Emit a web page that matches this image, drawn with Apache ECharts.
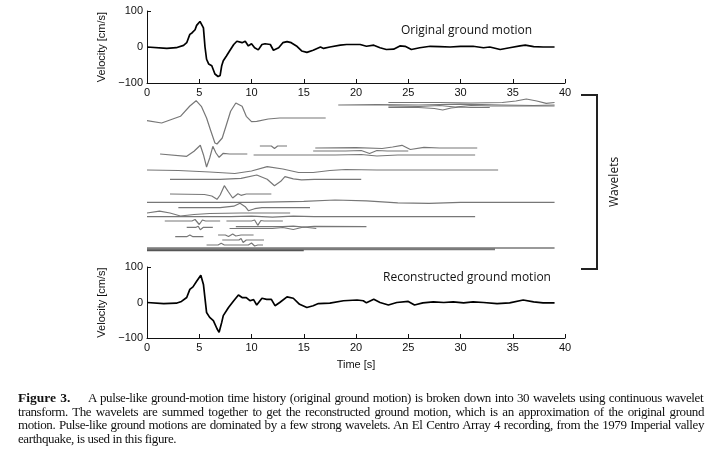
<!DOCTYPE html>
<html><head><meta charset="utf-8">
<script src="https://cdn.jsdelivr.net/npm/echarts@6/dist/echarts.min.js"></script>
<style>
html,body{margin:0;padding:0;background:#fff;}
#chart{position:absolute;left:0;top:0;width:720px;height:459px;}
#cap{position:absolute;left:18px;top:391px;width:686px;font-family:"Liberation Serif","Times New Roman",serif;font-size:13px;line-height:13.6px;color:#111;}
#cap div{white-space:nowrap;}
#cap b{display:inline-block;width:70px;font-size:13.5px;letter-spacing:0;}
</style></head>
<body>
<div id="chart"></div>
<div id="cap">
<div class="j"><b>Figure 3.</b>A pulse-like ground-motion time history (original ground motion) is broken down into 30 wavelets using continuous wavelet</div>
<div class="j">transform. The wavelets are summed together to get the reconstructed ground motion, which is an approximation of the original ground</div>
<div class="j">motion. Pulse-like ground motions are dominated by a few strong wavelets. An El Centro Array 4 recording, from the 1979 Imperial valley</div>
<div>earthquake, is used in this figure.</div>
</div>
<script>
const xTicks=[0,5,10,15,20,25,30,35,40];
const yTicks=[-100,0,100];
const originalMotion=[[0,0],[1.9,-3.6],[2.8,-2],[3.5,4.5],[3.8,12],[4.1,35],[4.3,39],[4.6,48],[4.75,60],[5.07,71],[5.2,75],[5.4,53],[5.55,0],[5.7,-34],[5.9,-47],[6.2,-52],[6.5,-75],[6.8,-82],[7.0,-79],[7.15,-52],[7.3,-38],[7.6,-25],[7.9,-11],[8.3,7],[8.6,16],[8.75,21],[9.1,12],[9.4,16],[9.7,3],[10.0,9],[10.3,-2],[10.65,-8],[11.0,7],[11.3,9],[11.8,7],[12.1,-9],[12.6,-2],[13.0,12],[13.4,15],[13.8,12],[14.3,3],[14.8,-11],[15.3,-15],[15.9,-9],[16.6,0],[16.9,-4],[17.5,0],[18.5,5],[19.1,7],[19.7,7],[20.4,7],[21.0,2],[21.7,5],[22.3,-2],[22.9,-7],[23.6,-6],[24.2,3],[24.7,2],[25.3,-7],[26.1,-2],[27.1,2],[28.0,1],[29.0,0],[30.0,2],[31.2,2],[32.2,-2],[32.8,0],[33.8,-7],[34.7,-2],[35.7,3],[36.2,5],[37.0,1],[37.9,0],[39.0,0]];
const reconstructedMotion=[[0,0],[1.6,-3],[2.8,-2],[3.3,3],[3.8,14],[4.1,37],[4.4,44],[4.75,60],[5.15,77],[5.4,51],[5.7,-28],[6.0,-42],[6.35,-51],[6.7,-74],[6.9,-84],[7.15,-56],[7.3,-37],[7.8,-14],[8.3,5],[8.75,21],[9.1,14],[9.5,14],[9.85,5],[10.2,8],[10.5,-7],[11.0,12],[11.45,9],[11.9,9],[12.25,-9],[12.7,0],[13.4,16],[14.0,12],[14.6,-5],[15.3,-14],[15.9,-9],[16.4,-3],[17.5,-2],[18.8,5],[20.1,7],[20.7,5],[21.0,-1],[21.7,9],[22.3,0],[23.1,-7],[23.9,0],[25.0,3],[25.6,-7],[26.4,-1],[27.4,2],[28.4,0],[29.3,2],[30.3,-1],[31.2,2],[32.2,0],[33.5,-3],[34.7,-1],[36.0,7],[37.0,2],[37.9,-1],[39.0,-1]];
// stacking level of each wavelet (arbitrary offset units, bottom = 0)
const waveletLevels=[149.5,147,144.5,146,134,98,106,97,104,101,82,72.7,58,49.7,44.3,39,35.3,31,31,24.7,25.3,23.5,15.3,17,12,7,4,3,2.5,1.5];
// each wavelet: [time s, amplitude]
const waveletShapes=[
[[23.1,0],[28,0],[31,-0.5],[34,0],[35.3,1.5],[36.3,3.5],[37.3,1.5],[38.2,-0.8],[39,0]],
[[18.3,0],[22,0.3],[26,0],[30,0.8],[34,0],[37,-0.5],[39,0]],
[[23.1,0],[26,0],[27.5,-1],[28.3,-2.5],[29.1,-0.5],[30,0.5],[31,0],[32.8,0]],
[[23.1,0],[26,-0.5],[28,0.5],[29.5,-1],[31,0.5],[33,0],[39,0]],
[[0,-2.7],[1.4,-5],[3.2,1.7],[4.1,12],[4.7,17.3],[5.2,11.7],[5.7,0],[6.1,-12.7],[6.5,-25],[6.7,-26],[7.2,-20],[7.6,-6.7],[8.0,6.7],[8.5,15],[9.1,11.7],[9.5,1.7],[10.0,-3.7],[10.5,-3.3],[11.6,-1],[12.7,0],[17.1,0]],
[[1.25,0],[3.8,-2.3],[4.5,2.7],[5.1,8.7],[5.4,-0.7],[5.7,-13],[6.0,-4],[6.3,7.7],[6.6,1],[6.9,-3.3],[7.3,0.7],[7.9,0],[9.6,0]],
[[10.8,0],[11.9,0],[12.2,-2.5],[12.5,0],[13.4,0]],
[[10.2,0],[18,0],[20.5,0.5],[22,-1],[24,0],[31.4,0]],
[[16.1,0],[20,0.3],[22.5,-0.5],[23.5,1],[24.4,2.7],[25.2,-1.5],[26.5,0.7],[28,0],[31.6,0]],
[[15.9,0],[19,0],[20.5,0.5],[21.3,-2.5],[22,0.5],[23,0],[25,0]],
[[0,0],[3,-0.5],[6,-2],[8.4,-3.5],[10,-1],[11.5,3.3],[13,1],[14.5,-2.5],[15.9,-2.5],[17.5,-0.5],[19,0.5],[22,0],[33.6,0]],
[[2.2,0],[7,0],[9,1],[10.5,4.3],[11.5,0],[12.2,-6.4],[12.8,-2],[13.2,2.7],[14,0.5],[14.8,-0.5],[16,0],[20.5,0]],
[[2.2,0],[5.5,-0.5],[6.2,-2],[6.7,-5.3],[7.0,-1],[7.4,8.3],[7.8,2],[8.2,-4],[8.7,0.3],[9.0,-1.3],[9.5,0],[11.9,0]],
[[0,0],[10,0],[15,1],[18,2.3],[21,1.5],[24,-0.5],[27,-1],[30,0],[39,0]],
[[3,0],[7,0],[8.3,1.5],[8.9,4.4],[9.4,1],[9.7,-3],[10.3,-1],[11,0],[15.6,0]],
[[0,0],[1.2,1.8],[2.2,0],[3.2,-3],[4.5,-1.5],[6,-0.5],[9,0],[13.7,0]],
[[0,0],[8,0],[10,0.5],[12,-0.5],[14,0.5],[16,0],[31.4,0]],
[[1.7,0],[4.3,0],[4.6,1.5],[5.0,-3.5],[5.3,1],[5.6,0],[7,0]],
[[7.6,0],[10,0],[10.3,1],[10.6,-4.3],[10.9,0.5],[11.2,0],[13,0]],
[[3.8,0],[4.7,0],[4.9,1],[5.1,-2.5],[5.4,0],[6.3,0]],
[[8.5,0],[13,0],[14,0.5],[15,-0.5],[16,0.3],[21,0]],
[[7.9,0],[12,0],[13,1],[14,-1],[15,1.5],[16.2,0]],
[[2.7,0],[3.8,0],[4.1,1.7],[4.4,0],[5.4,0]],
[[6.8,0],[7.5,0],[7.8,-1.5],[8.2,1],[8.5,-1],[9,0],[10.2,0]],
[[7.2,0],[8.8,0],[9.0,1.5],[9.2,-2.5],[9.5,0],[11.2,0]],
[[5.7,0],[6.8,0],[7.1,1.7],[7.4,0],[9.7,0],[10.0,2],[10.3,-1],[10.6,0],[11.1,0]],
[[0,0],[39,0]],
[[0,0],[33.3,0]],
[[0,0],[33.3,0]],
[[0,0],[15,0]]
];
const topLabel='Original ground motion';
const bottomLabel='Reconstructed ground motion';

const FONT='"Liberation Sans", Arial, sans-serif';
const chart=echarts.init(document.getElementById('chart'));
const grids=[
  {left:147,width:418,top:11,height:72},
  {left:147,width:418,top:95,height:157},
  {left:147,width:418,top:267,height:71}
];
function xAx(gi,name){
  return {type:'value',gridIndex:gi,min:xTicks[0],max:xTicks[xTicks.length-1],interval:xTicks[1]-xTicks[0],
    axisLine:{show:true,onZero:false,lineStyle:{color:'#111',width:1}},
    axisTick:{show:true,inside:true,length:4,lineStyle:{color:'#111'}},
    axisLabel:{color:'#111',fontSize:11,fontFamily:FONT,margin:4},
    splitLine:{show:false},
    name:name||'',nameLocation:'middle',nameGap:21,nameTextStyle:{color:'#111',fontSize:11,fontFamily:FONT}};
}
function yAx(gi){
  return {type:'value',gridIndex:gi,min:yTicks[0],max:yTicks[yTicks.length-1],interval:yTicks[1]-yTicks[0],
    axisLine:{show:true,onZero:false,lineStyle:{color:'#111',width:1}},
    axisTick:{show:true,inside:true,length:4,lineStyle:{color:'#111'}},
    axisLabel:{color:'#111',fontSize:11,fontFamily:FONT,margin:4,formatter:v=>String(v).replace('-','\u2212')},
    splitLine:{show:false},
    name:'Velocity [cm/s]',nameLocation:'middle',nameGap:36,nameTextStyle:{color:'#111',fontSize:11,fontFamily:FONT}};
}
const series=[
  {type:'line',xAxisIndex:0,yAxisIndex:0,data:originalMotion,showSymbol:false,lineStyle:{color:'#000',width:1.7},silent:true},
  {type:'line',xAxisIndex:2,yAxisIndex:2,data:reconstructedMotion,showSymbol:false,lineStyle:{color:'#000',width:1.7},silent:true}
];
waveletShapes.forEach((w,i)=>{
  series.push({type:'line',xAxisIndex:1,yAxisIndex:1,showSymbol:false,silent:true,
    data:w.map(p=>[p[0],waveletLevels[i]+p[1]]),
    lineStyle:{color: i===29 ? '#555' : '#777',width:i>=26?1.4:1.2}});
});
chart.setOption({
  animation:false,
  grid:grids,
  xAxis:[xAx(0),{type:'value',gridIndex:1,min:0,max:40,show:false},xAx(2,'Time [s]')],
  yAxis:[yAx(0),{type:'value',gridIndex:1,min:0,max:157,show:false},yAx(2)],
  series:series,
  graphic:[
    {type:'text',left:401,top:25,style:{text:topLabel,fontSize:12,fontFamily:'"Open Sans", sans-serif',fill:'#111'}},
    {type:'text',left:383,top:272,style:{text:bottomLabel,fontSize:12,fontFamily:'"Open Sans", sans-serif',fill:'#111'}},
    {type:'polyline',shape:{points:[[581,95],[597,95],[597,269],[581,269]]},style:{stroke:'#222',lineWidth:2,fill:null}},
    {type:'text',x:615,y:182,rotation:Math.PI/2,style:{text:'Wavelets',fontSize:12,fontFamily:'"Open Sans", sans-serif',fill:'#111',align:'center',verticalAlign:'middle'}}
  ]
});
// justify caption lines: uniform letter-spacing so the longest line fits, then word-spacing per line
(function(){
  const W=686;
  const lines=[...document.querySelectorAll('#cap .j')];
  const meas=d=>{const r=document.createRange();r.selectNodeContents(d);return r.getBoundingClientRect().width;};
  let ls=0;
  lines.forEach(d=>{
    const w=meas(d);const n=(d.textContent.match(/ /g)||[]).length;const c=d.textContent.length;
    const need=(w+n*0.8-W)/c; if(need>ls) ls=need;
  });
  document.getElementById('cap').style.letterSpacing=(-ls)+'px';
  lines.forEach(d=>{
    const w=meas(d);const n=(d.textContent.match(/ /g)||[]).length;
    if(n>0) d.style.wordSpacing=((W-w)/n)+'px';
  });
})();
</script>
</body></html>
